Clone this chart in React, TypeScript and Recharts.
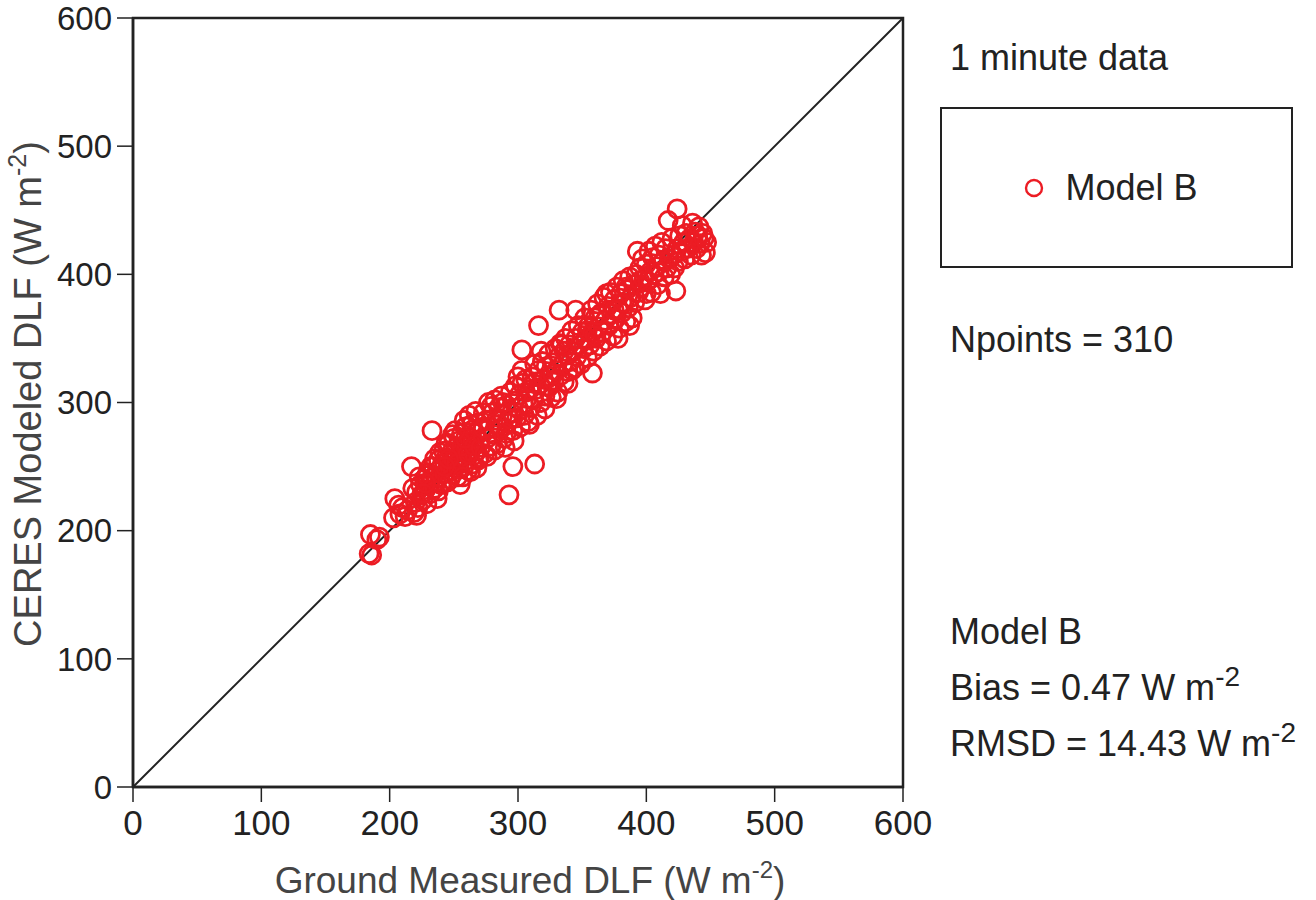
import React from "react";
import {
  ScatterChart,
  Scatter,
  XAxis,
  YAxis,
  ReferenceLine,
  ReferenceArea,
  Legend,
  Label,
} from "recharts";

const pointsLow: [number, number][] = [
  [184, 182], [186, 181], [185, 197], [192, 195], [190, 193], [203, 210], [204, 225], [208, 213],
  [207, 220], [212, 211], [214, 216], [210, 218],
  [217, 250], [218, 233], [219, 214], [220, 222], [221, 230], [222, 218], [224, 236], [225, 228],
  [226, 224], [227, 240], [228, 232], [229, 221], [230, 245], [231, 236], [232, 229], [233, 278],
  [233, 241], [234, 250], [235, 233], [236, 238], [237, 246], [238, 231], [239, 242], [238, 255],
  [240, 249], [240, 236], [237, 225], [229, 243], [223, 242], [226, 229], [232, 250], [235, 256],
  [239, 261], [228, 237], [221, 212],
];

const pointsMidLow: [number, number][] = [
  [241, 252], [242, 262], [243, 245], [244, 257], [245, 238], [246, 268], [247, 250], [248, 261],
  [249, 244], [250, 272], [250, 255], [251, 249], [252, 265], [253, 242], [254, 270], [255, 258],
  [255, 236], [256, 276], [257, 262], [258, 250], [259, 281], [260, 267], [260, 255], [261, 247],
  [262, 273], [263, 263], [264, 283], [264, 252], [265, 270], [266, 259], [267, 293], [267, 276],
  [268, 262], [268, 249], [269, 284], [270, 270], [270, 257], [244, 268], [247, 240], [249, 275],
  [252, 252], [254, 248], [256, 266], [258, 286], [261, 260], [263, 246], [265, 279], [266, 266],
  [269, 255], [246, 256], [243, 250], [251, 278], [257, 242], [259, 272], [262, 290],
  [271, 265], [272, 279], [273, 292], [274, 260], [275, 286], [276, 272], [277, 300], [278, 281],
  [279, 266], [280, 292], [281, 275], [282, 302], [283, 286], [284, 268], [285, 296], [286, 280],
  [287, 305], [288, 290], [289, 272], [290, 265], [291, 298], [292, 284], [293, 228], [294, 308],
  [295, 292], [296, 250], [296, 278], [297, 301], [298, 313], [299, 288], [300, 296], [301, 306],
  [302, 281], [303, 341], [303, 315], [304, 299], [305, 290], [306, 318], [307, 303], [308, 285],
  [309, 310], [310, 296], [273, 280], [276, 258], [279, 297], [282, 263], [285, 283], [288, 300],
  [291, 276], [294, 287], [297, 270], [300, 320], [303, 325], [306, 308], [309, 283],
];

const pointsMidHigh: [number, number][] = [
  [311, 320], [312, 302], [313, 252], [313, 330], [314, 310], [315, 290], [316, 360], [316, 325],
  [317, 314], [318, 300], [319, 332], [320, 318], [321, 305], [322, 328], [323, 313], [324, 338],
  [325, 320], [326, 304], [327, 331], [328, 316], [329, 342], [330, 325], [331, 308], [332, 372],
  [332, 336], [333, 321], [334, 345], [335, 330], [336, 316], [337, 350], [338, 337], [339, 324],
  [340, 345], [341, 332], [342, 356], [343, 340], [344, 327], [345, 372], [345, 350], [346, 336],
  [347, 360], [348, 345], [349, 330], [350, 355], [312, 315], [318, 340], [321, 295],
  [324, 312], [327, 322], [330, 303], [333, 346], [336, 340], [339, 315], [342, 325],
  [351, 342], [352, 366], [353, 350], [354, 335], [355, 360], [356, 345], [357, 372], [358, 323],
  [358, 355], [359, 340], [360, 366], [361, 350], [362, 377], [363, 359], [364, 344], [365, 370],
  [366, 355], [367, 382], [368, 364], [369, 348], [370, 375], [371, 360], [372, 386], [373, 369],
  [374, 352], [375, 380], [376, 365], [377, 390], [378, 373], [379, 358], [380, 385], [381, 370],
  [382, 395], [383, 378], [384, 363], [385, 388], [386, 374], [387, 398], [388, 382], [389, 366],
  [390, 392], [354, 356], [360, 352], [363, 368], [369, 385], [375, 372],
  [378, 350], [381, 378], [384, 390], [387, 360],
];

const pointsHigh: [number, number][] = [
  [391, 378], [392, 400], [393, 418], [394, 386], [395, 405], [396, 390], [397, 412], [398, 396],
  [399, 380], [400, 408], [401, 395], [402, 418], [403, 402], [404, 386], [405, 413], [406, 400],
  [407, 422], [408, 406], [409, 392], [410, 415], [411, 385], [412, 425], [413, 410], [414, 398],
  [415, 420], [416, 405], [417, 442], [418, 412], [419, 400], [420, 428], [421, 415], [422, 405],
  [423, 387], [424, 451], [424, 420], [425, 410], [426, 430], [427, 418], [428, 438], [429, 425],
  [430, 412], [431, 432], [432, 420], [434, 428], [435, 415], [436, 440], [437, 425], [438, 433],
  [439, 420], [440, 430], [441, 437], [442, 424], [443, 415], [444, 432], [445, 428], [446, 417],
  [447, 425], [395, 395], [400, 385], [410, 402],
];

const xTicks = [0, 100, 200, 300, 400, 500, 600];
const yTicks = [0, 100, 200, 300, 400, 500, 600];
const seriesName = "Model B";
const npoints = 310;
const bias = "0.47";
const rmsd = "14.43";

const data = [...pointsLow, ...pointsMidLow, ...pointsMidHigh, ...pointsHigh].map(([x, y]) => ({ x, y }));

const RED = "#ec1c24";
const FONT = "'Liberation Sans', Arial, Helvetica, sans-serif";

const Ring = (props: any) => {
  if (props.cx == null || props.cy == null) return null;
  return <circle cx={props.cx} cy={props.cy} r={9} fill="none" stroke={RED} strokeWidth={2.8} />;
};

const XTitle = (props: any) => {
  const vb = props.viewBox;
  return (
    <text x={vb.x + vb.width / 2 + 12} y={893} textAnchor="middle" fontFamily={FONT} fontSize={37} fill="#444">
      Ground Measured DLF (W m<tspan dy={-15} fontSize={24}>-2</tspan><tspan dy={15}>)</tspan>
    </text>
  );
};

const YTitle = () => {
  const cy = 394;
  return (
    <text
      x={41}
      y={cy}
      transform={`rotate(-90, 41, ${cy})`}
      textAnchor="middle"
      fontFamily={FONT}
      fontSize={38}
      fill="#444"
    >
      CERES Modeled DLF (W m<tspan dy={-15} fontSize={25}>-2</tspan><tspan dy={15}>)</tspan>
    </text>
  );
};

// the legend is drawn from a zero-size wrapper so it does not shrink the plot
const LegendBox = () => (
  <div
    style={{
      position: "absolute",
      left: 0,
      top: 0,
      width: 349,
      height: 157,
      border: "2px solid #222",
      display: "flex",
      alignItems: "center",
      justifyContent: "center",
      fontFamily: FONT,
      fontSize: 36,
      color: "#222",
    }}
  >
    <svg width={22} height={22} style={{ marginRight: 20, marginLeft: -12 }}>
      <circle cx={11} cy={11} r={8} fill="none" stroke={RED} strokeWidth={2.4} />
    </svg>
    <span>{seriesName}</span>
  </div>
);

const textStyle: React.CSSProperties = {
  position: "absolute",
  left: 950,
  fontFamily: FONT,
  fontSize: 36,
  color: "#222",
  whiteSpace: "nowrap",
  lineHeight: "40px",
};

const Sup = ({ children }: { children: React.ReactNode }) => (
  <sup style={{ fontSize: 28, verticalAlign: 0, position: "relative", top: -14 }}>{children}</sup>
);

export default function App() {
  return (
    <div style={{ position: "absolute", left: 0, top: 0, width: 1316, height: 900, background: "#fff" }}>
      <ScatterChart width={1316} height={900} margin={{ top: 18, right: 413, bottom: 0, left: 0 }}>
        <XAxis
          type="number"
          dataKey="x"
          domain={[0, 600]}
          ticks={xTicks}
          allowDataOverflow
          height={113}
          tickSize={15}
          tickMargin={8}
          axisLine={{ stroke: "#222", strokeWidth: 2.5 }}
          tickLine={{ stroke: "#222", strokeWidth: 1.5 }}
          tick={{ fill: "#222", fontSize: 35, fontFamily: FONT }}
        >
          <Label content={<XTitle />} />
        </XAxis>
        <YAxis
          type="number"
          dataKey="y"
          domain={[0, 600]}
          ticks={yTicks}
          allowDataOverflow
          width={133}
          tickSize={16}
          tickMargin={5}
          axisLine={{ stroke: "#222", strokeWidth: 2.5 }}
          tickLine={{ stroke: "#222", strokeWidth: 1.5 }}
          tick={{ fill: "#222", fontSize: 33, fontFamily: FONT }}
        >
          <Label content={<YTitle />} />
        </YAxis>
        <ReferenceArea x1={0} x2={600} y1={0} y2={600} fill="none" stroke="#222" strokeWidth={2.5} />
        <ReferenceLine
          segment={[
            { x: 0, y: 0 },
            { x: 600, y: 600 },
          ]}
          stroke="#222"
          strokeWidth={2}
        />
        <Scatter name={seriesName} data={data} shape={<Ring />} isAnimationActive={false} />
        <Legend
          content={<LegendBox />}
          wrapperStyle={{ position: "absolute", left: 940, top: 107, width: 0, height: 0, overflow: "visible" }}
        />
      </ScatterChart>
      <div style={{ ...textStyle, top: 38 }}>1 minute data</div>
      <div style={{ ...textStyle, top: 320 }}>Npoints = {npoints}</div>
      <div style={{ ...textStyle, top: 612 }}>{seriesName}</div>
      <div style={{ ...textStyle, top: 668 }}>
        Bias = {bias} W m<Sup>-2</Sup>
      </div>
      <div style={{ ...textStyle, top: 724 }}>
        RMSD = {rmsd} W m<Sup>-2</Sup>
      </div>
    </div>
  );
}
